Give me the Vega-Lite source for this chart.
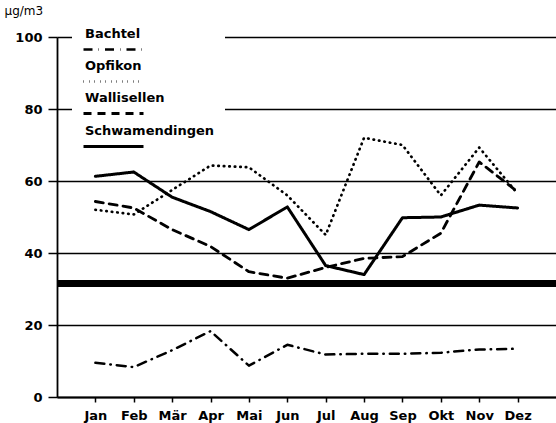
{
  "$schema": "https://vega.github.io/schema/vega-lite/v6.json",
  "width": 499,
  "height": 360,
  "autosize": {"type": "none"},
  "padding": {"left": 57, "top": 37, "right": 0, "bottom": 26},
  "background": "white",
  "config": {"view": {"stroke": null}, "font": "DejaVu Sans"},
  "data": {
    "values": [
      {"Monat": "Jan", "Station": "Bachtel", "Wert": 9.5},
      {"Monat": "Feb", "Station": "Bachtel", "Wert": 8.3},
      {"Monat": "Mär", "Station": "Bachtel", "Wert": 13},
      {"Monat": "Apr", "Station": "Bachtel", "Wert": 18.3},
      {"Monat": "Mai", "Station": "Bachtel", "Wert": 8.7},
      {"Monat": "Jun", "Station": "Bachtel", "Wert": 14.5},
      {"Monat": "Jul", "Station": "Bachtel", "Wert": 11.8},
      {"Monat": "Aug", "Station": "Bachtel", "Wert": 12},
      {"Monat": "Sep", "Station": "Bachtel", "Wert": 12},
      {"Monat": "Okt", "Station": "Bachtel", "Wert": 12.3},
      {"Monat": "Nov", "Station": "Bachtel", "Wert": 13.2},
      {"Monat": "Dez", "Station": "Bachtel", "Wert": 13.4},
      {"Monat": "Jan", "Station": "Opfikon", "Wert": 52},
      {"Monat": "Feb", "Station": "Opfikon", "Wert": 50.7},
      {"Monat": "Mär", "Station": "Opfikon", "Wert": 57.5},
      {"Monat": "Apr", "Station": "Opfikon", "Wert": 64.3},
      {"Monat": "Mai", "Station": "Opfikon", "Wert": 63.8},
      {"Monat": "Jun", "Station": "Opfikon", "Wert": 56},
      {"Monat": "Jul", "Station": "Opfikon", "Wert": 45},
      {"Monat": "Aug", "Station": "Opfikon", "Wert": 72},
      {"Monat": "Sep", "Station": "Opfikon", "Wert": 70},
      {"Monat": "Okt", "Station": "Opfikon", "Wert": 56},
      {"Monat": "Nov", "Station": "Opfikon", "Wert": 69.3},
      {"Monat": "Dez", "Station": "Opfikon", "Wert": 56.5},
      {"Monat": "Jan", "Station": "Wallisellen", "Wert": 54.3},
      {"Monat": "Feb", "Station": "Wallisellen", "Wert": 52.5},
      {"Monat": "Mär", "Station": "Wallisellen", "Wert": 46.5},
      {"Monat": "Apr", "Station": "Wallisellen", "Wert": 41.8},
      {"Monat": "Mai", "Station": "Wallisellen", "Wert": 34.8},
      {"Monat": "Jun", "Station": "Wallisellen", "Wert": 33},
      {"Monat": "Jul", "Station": "Wallisellen", "Wert": 36},
      {"Monat": "Aug", "Station": "Wallisellen", "Wert": 38.5},
      {"Monat": "Sep", "Station": "Wallisellen", "Wert": 39},
      {"Monat": "Okt", "Station": "Wallisellen", "Wert": 45.5},
      {"Monat": "Nov", "Station": "Wallisellen", "Wert": 65.3},
      {"Monat": "Dez", "Station": "Wallisellen", "Wert": 57},
      {"Monat": "Jan", "Station": "Schwamendingen", "Wert": 61.3},
      {"Monat": "Feb", "Station": "Schwamendingen", "Wert": 62.5},
      {"Monat": "Mär", "Station": "Schwamendingen", "Wert": 55.5},
      {"Monat": "Apr", "Station": "Schwamendingen", "Wert": 51.5},
      {"Monat": "Mai", "Station": "Schwamendingen", "Wert": 46.5},
      {"Monat": "Jun", "Station": "Schwamendingen", "Wert": 52.8},
      {"Monat": "Jul", "Station": "Schwamendingen", "Wert": 36.5},
      {"Monat": "Aug", "Station": "Schwamendingen", "Wert": 34},
      {"Monat": "Sep", "Station": "Schwamendingen", "Wert": 49.8},
      {"Monat": "Okt", "Station": "Schwamendingen", "Wert": 50},
      {"Monat": "Nov", "Station": "Schwamendingen", "Wert": 53.3},
      {"Monat": "Dez", "Station": "Schwamendingen", "Wert": 52.5}
    ]
  },
  "encoding": {
    "x": {
      "field": "Monat",
      "type": "ordinal",
      "sort": null,
      "scale": {"type": "point", "padding": 1, "domain": ["Jan","Feb","Mär","Apr","Mai","Jun","Jul","Aug","Sep","Okt","Nov","Dez"]},
      "axis": {
        "title": null, "labelAngle": 0, "domainColor": "black", "domainWidth": 1.8,
        "tickColor": "black", "tickSize": 5, "tickWidth": 1.5,
        "labelFont": "DejaVu Sans", "labelFontSize": 13, "labelFontWeight": "bold", "labelColor": "black",
        "labelPadding": 7, "grid": false
      }
    },
    "y": {
      "field": "Wert",
      "type": "quantitative",
      "scale": {"domain": [0, 100], "nice": false},
      "axis": {
        "title": "µg/m3", "titleAngle": 0, "titleAlign": "left", "titleBaseline": "top",
        "titleX": -53, "titleY": -32, "titleFontWeight": "normal", "titleFontSize": 12, "titleColor": "black",
        "titleFont": "DejaVu Sans",
        "values": [0, 20, 40, 60, 80, 100],
        "grid": true, "gridColor": "black", "gridWidth": 1.3, "gridOpacity": 1,
        "domainColor": "black", "domainWidth": 1.8,
        "tickColor": "black", "tickSize": 9, "tickWidth": 1.5,
        "labelFont": "DejaVu Sans", "labelFontSize": 13, "labelFontWeight": "bold", "labelColor": "black", "labelPadding": 6
      }
    }
  },
  "layer": [
    {
      "mark": {"type": "rule", "color": "black", "strokeWidth": 6},
      "encoding": {"x": null, "y": {"datum": 31.5, "type": "quantitative"}}
    },
    {
      "mark": {"type": "line", "color": "black", "strokeCap": "round", "strokeJoin": "round"},
      "encoding": {
        "strokeWidth": {
          "field": "Station",
          "type": "nominal",
          "scale": {
            "domain": ["Bachtel", "Opfikon", "Wallisellen", "Schwamendingen"],
            "range": [2.5, 3, 2.8, 2.2]
          },
          "legend": null
        },
        "strokeDash": {
          "field": "Station",
          "type": "nominal",
          "scale": {
            "domain": ["Bachtel", "Opfikon", "Wallisellen", "Schwamendingen"],
            "range": [[9, 6, 0.5, 6], [0.5, 5], [8, 6], [1, 0]]
          },
          "legend": {
            "orient": "none", "legendX": 15, "legendY": -9, "title": null,
            "fillColor": "white", "padding": 10,
            "symbolType": "M-1,0H5", "symbolSize": 400, "symbolStrokeWidth": 2.5,
            "symbolStrokeColor": "black", "symbolFillColor": "transparent",
            "labelFont": "DejaVu Sans", "labelFontSize": 13, "labelFontWeight": "bold",
            "labelColor": "black", "labelOffset": 0, "rowPadding": 4, "labelLimit": 200,
            "encode": {"labels": {"update": {"dx": {"value": -20}, "dy": {"value": -16}}}}
          }
        }
      }
    }
  ]
}
